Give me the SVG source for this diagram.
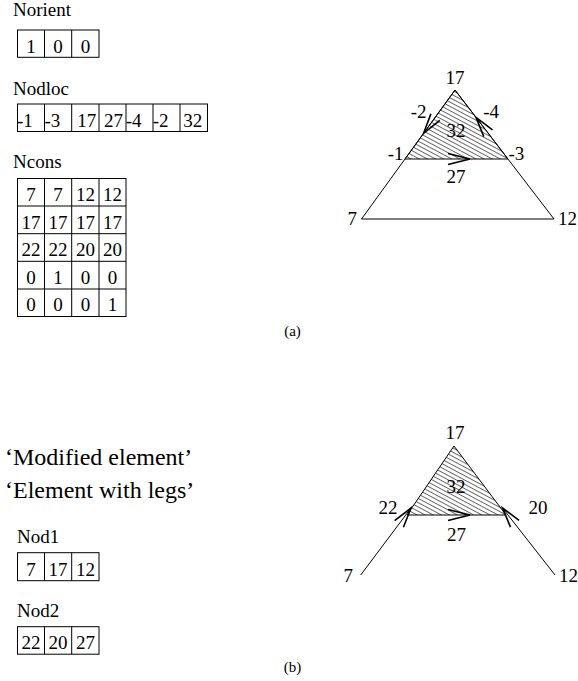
<svg xmlns="http://www.w3.org/2000/svg" width="578" height="681" viewBox="0 0 578 681">
<style>
.t{font-size:19px}
.big{font-size:24px}
.cap{font-size:15px}
.c{text-anchor:middle}
.e{text-anchor:end}
.grid{fill:none;stroke:#000;stroke-width:1}
.ln{fill:none;stroke:#000;stroke-width:1}
.arr{fill:none;stroke:#000;stroke-width:1.6;stroke-linejoin:miter}
.hatch{fill:url(#hatch);stroke:#000;stroke-width:1}
</style>
<defs>
<pattern id="hatch" patternUnits="userSpaceOnUse" width="6" height="3.8" patternTransform="rotate(28)">
<line x1="0" y1="0.5" x2="6" y2="0.5" stroke="#000" stroke-width="0.6"/>
</pattern>
</defs>
<g font-family="'Liberation Serif', 'Times New Roman', 'DejaVu Serif', serif" fill="#000">

<g id="norient">
<text class="t" x="13" y="16">Norient</text>
<rect class="grid" x="17.5" y="30" width="81.5" height="27.3"/>
<path class="grid" d="M44.5,30V57.3M71.7,30V57.3"/>
<text class="t c" x="31" y="52.5">1</text>
<text class="t c" x="58" y="52.5">0</text>
<text class="t c" x="85.4" y="52.5">0</text>
</g>

<g id="nodloc">
<text class="t" x="13" y="95">Nodloc</text>
<rect class="grid" x="17.5" y="104" width="190" height="27.5"/>
<path class="grid" d="M44.5,104V131.5M71.7,104V131.5M99,104V131.5M126,104V131.5M153,104V131.5M180,104V131.5"/>
<text class="t" x="17" y="126.5">-1</text>
<text class="t" x="44.5" y="126.5">-3</text>
<text class="t c" x="86.8" y="126.5">17</text>
<text class="t c" x="113.5" y="126.5">27</text>
<text class="t" x="125.7" y="126.5">-4</text>
<text class="t" x="152.7" y="126.5">-2</text>
<text class="t c" x="192.7" y="126.5">32</text>
</g>

<g id="ncons">
<text class="t" x="13" y="168">Ncons</text>
<rect class="grid" x="17.5" y="178.5" width="108.5" height="138"/>
<path class="grid" d="M17.5,206H126M17.5,233.7H126M17.5,261.3H126M17.5,289H126M44.5,178.5V316.5M71.7,178.5V316.5M99,178.5V316.5"/>
<text class="t c" x="31" y="201">7</text><text class="t c" x="58" y="201">7</text><text class="t c" x="85.4" y="201">12</text><text class="t c" x="112.5" y="201">12</text>
<text class="t c" x="31" y="228.6">17</text><text class="t c" x="58" y="228.6">17</text><text class="t c" x="85.4" y="228.6">17</text><text class="t c" x="112.5" y="228.6">17</text>
<text class="t c" x="31" y="256.2">22</text><text class="t c" x="58" y="256.2">22</text><text class="t c" x="85.4" y="256.2">20</text><text class="t c" x="112.5" y="256.2">20</text>
<text class="t c" x="31" y="283.8">0</text><text class="t c" x="58" y="283.8">1</text><text class="t c" x="85.4" y="283.8">0</text><text class="t c" x="112.5" y="283.8">0</text>
<text class="t c" x="31" y="311.4">0</text><text class="t c" x="58" y="311.4">0</text><text class="t c" x="85.4" y="311.4">0</text><text class="t c" x="112.5" y="311.4">1</text>
</g>

<g id="triangle-a">
<polygon class="hatch" points="455,90 405,159 508,159"/>
<path class="ln" d="M455,90L361.5,219H554Z"/>
<text class="t c" x="455" y="84">17</text>
<text class="t" x="410.7" y="117.5">-2</text>
<text class="t c" x="456" y="137">32</text>
<text class="t" x="483.3" y="118">-4</text>
<text class="t e" x="403.5" y="160">-1</text>
<text class="t" x="508.5" y="160">-3</text>
<text class="t c" x="456" y="183">27</text>
<text class="t e" x="357" y="225">7</text>
<text class="t" x="558" y="225">12</text>
</g>

<text id="caption-a" class="cap c" x="292.5" y="336">(a)</text>

<g id="labels-b">
<text class="big" x="5" y="465">‘Modified element’</text>
<text class="big" x="5" y="498">‘Element with legs’</text>
</g>

<g id="nod1">
<text class="t" x="17" y="543">Nod1</text>
<rect class="grid" x="17.5" y="552.7" width="81.5" height="28"/>
<path class="grid" d="M44.5,552.7V580.7M71.7,552.7V580.7"/>
<text class="t c" x="31" y="575.5">7</text>
<text class="t c" x="58" y="575.5">17</text>
<text class="t c" x="85.4" y="575.5">12</text>
</g>

<g id="nod2">
<text class="t" x="17" y="617">Nod2</text>
<rect class="grid" x="17.5" y="626.7" width="81.5" height="27.5"/>
<path class="grid" d="M44.5,626.7V654.2M71.7,626.7V654.2"/>
<text class="t c" x="31" y="649">22</text>
<text class="t c" x="58" y="649">20</text>
<text class="t c" x="85.4" y="649">27</text>
</g>

<g id="triangle-b">
<polygon class="hatch" points="454,446 407,515 506,515"/>
<text class="t c" x="455" y="439">17</text>
<text class="t c" x="456" y="493">32</text>
<text class="t" x="378.5" y="514">22</text>
<text class="t" x="528.5" y="514">20</text>
<text class="t c" x="456.5" y="541">27</text>
<text class="t e" x="353" y="582">7</text>
<text class="t" x="559" y="582">12</text>
</g>

<text id="caption-b" class="cap c" x="292.5" y="672">(b)</text>

</g>
<g id="connectors">
<line class="ln" x1="360.7" y1="575" x2="411" y2="508"/>
<line class="ln" x1="555" y1="575" x2="502.5" y2="508"/>
<polyline class="arr" points="448,153.5 470,159 448,164.5"/>
<polyline class="arr" points="439.8,120.4 423.6,133.3 430.9,113.9"/>
<polyline class="arr" points="492.5,129.9 476,117.3 483.8,136.6"/>
<polyline class="arr" points="448,509.5 470,515 448,520.5"/>
<polyline class="arr" points="403.4,527.3 411,508 394.6,520.7"/>
<polyline class="arr" points="519.1,520.3 502.5,508 510.5,527.1"/>
</g>
</svg>
